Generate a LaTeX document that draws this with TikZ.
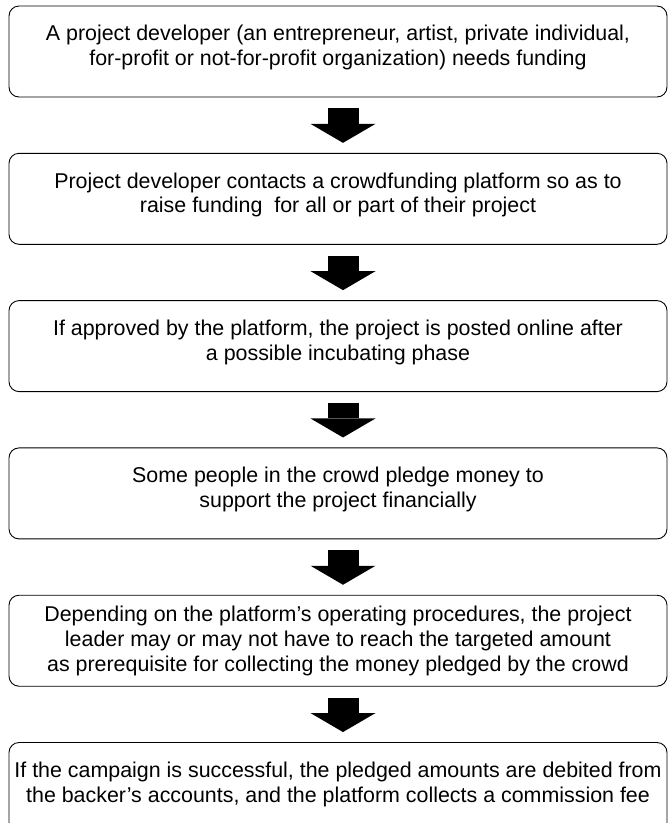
\documentclass[tikz,border=0pt]{standalone}
\usepackage{fontspec}
\setmainfont{Liberation Sans}
\usetikzlibrary{arrows.meta, positioning}

\tikzset{
  stepbox/.style={draw, line width=0.9pt, rounded corners=10pt, minimum width=658pt,
    minimum height=91pt, align=center, inner sep=0pt, font=\fontsize{21.4}{24.8}\selectfont},
  twoline/.style={text depth=12pt},
  bigarrow/.style={line width=31pt, -{Triangle[width=65pt,length=19pt,line width=0pt]},
    shorten <=11pt, shorten >=10pt}
}

\begin{document}
\begin{tikzpicture}[x=1pt,y=-1pt]
    % Page frame (last step is cut off at the bottom)
    \clip (0,0) rectangle (668,823);

    % Draw the steps
    \node[stepbox, twoline] (b1) at (338,51.5) {A project developer (an entrepreneur, artist, private individual,\\for-profit or not-for-profit organization) needs funding};
    \node[stepbox, twoline, below=55.4pt of b1] (b2) {Project developer contacts a crowdfunding platform so as to\\raise funding~ for all or part of their project};
    \node[stepbox, twoline, below=55.4pt of b2] (b3) {If approved by the platform, the project is posted online after\\a possible incubating phase};
    \node[stepbox, twoline, below=55.4pt of b3] (b4) {Some people in the crowd pledge money to\\support the project financially};
    \node[stepbox, below=55.4pt of b4] (b5) {Depending on the platform’s operating procedures, the project\\leader may or may not have to reach the targeted amount\\as prerequisite for collecting the money pledged by the crowd};
    \node[stepbox, twoline, below=55.4pt of b5] (b6) {If the campaign is successful, the pledged amounts are debited from\\the backer’s accounts, and the platform collects a commission fee};

    % Block arrows between steps
    \foreach \a/\b in {b1/b2,b2/b3,b3/b4,b4/b5,b5/b6} {
        \draw[bigarrow] ([xshift=5pt]\a.south) -- ([xshift=5pt]\b.north);
    }
\end{tikzpicture}
\end{document}
